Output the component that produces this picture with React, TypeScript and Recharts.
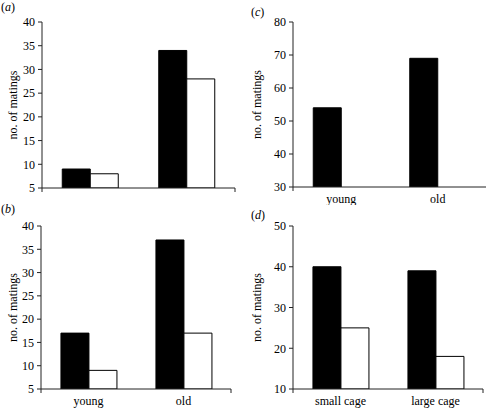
import React from 'react';
import { BarChart, Bar, XAxis, YAxis } from 'recharts';

const ageCategories = ['young', 'old'];
const cageCategories = ['small cage', 'large cage'];

const aBlack = [9, 34];
const aWhite = [8, 28];
const bBlack = [17, 37];
const bWhite = [9, 17];
const cBlack = [54, 69];
const cWhite: (number | null)[] = [null, null];
const dBlack = [40, 39];
const dWhite = [25, 18];

const ticksAB = [5, 10, 15, 20, 25, 30, 35, 40];
const ticksC = [30, 40, 50, 60, 70, 80];
const ticksD = [10, 20, 30, 40, 50];
const boundaryTicks = [0, 1, 2];

const FONT = '"Liberation Serif", "Times New Roman", serif';
const AXIS = '#222';

function build(cats: string[], black: (number | null)[], white: (number | null)[]) {
  return cats.map((c, i) => ({ cat: c, black: black[i], white: white[i] }));
}

const YLabel = (props: any) => {
  const vb = props.viewBox;
  const x = vb.x + 13;
  const y = vb.y + vb.height / 2;
  return (
    <text x={x} y={y} transform={`rotate(-90, ${x}, ${y})`} textAnchor="middle" dominantBaseline="central" style={{ fontSize: 12, fontFamily: FONT }} fill="#000">
      no. of matings
    </text>
  );
};

type PanelProps = {
  left: number; top: number; width: number; height: number;
  yWidth: number; mTop: number; mRight: number; axisH: number;
  data: any[]; domain: [number, number]; ticks: number[]; showX: boolean;
  tag: string; tagX: number; tagY: number;
};

function Panel(p: PanelProps) {
  const tickStyle = { fontSize: 12, fontFamily: FONT, fill: '#000' };
  return (
    <div style={{ position: 'absolute', left: p.left, top: p.top, width: p.width, height: p.height, fontFamily: FONT }}>
      <BarChart width={p.width} height={p.height} data={p.data} margin={{ top: p.mTop, right: p.mRight, bottom: 0, left: 0 }} barCategoryGap="21%" barGap={0} style={{ fontFamily: FONT, overflow: 'visible' }}>
        <XAxis xAxisId="a" type="number" domain={[0, boundaryTicks.length - 1]} ticks={boundaryTicks} allowDataOverflow height={1} tickSize={4} tickFormatter={() => ''} axisLine={{ stroke: AXIS }} tickLine={{ stroke: AXIS }} />
        <XAxis xAxisId="z" dataKey="cat" height={p.axisH - 1} axisLine={false} tickLine={false} tickSize={0} tickMargin={6} tick={p.showX ? tickStyle : false} interval={0} />
        <YAxis width={p.yWidth} domain={p.domain} ticks={p.ticks} allowDataOverflow interval={0} tickSize={4} tickMargin={3} axisLine={{ stroke: AXIS }} tickLine={{ stroke: AXIS }} tick={tickStyle} label={<YLabel />} />
        <Bar xAxisId="z" dataKey="black" fill="#000" stroke="#000" strokeWidth={1} isAnimationActive={false} />
        <Bar xAxisId="z" dataKey="white" fill="#fff" stroke="#000" strokeWidth={1} isAnimationActive={false} />
      </BarChart>
      <div style={{ position: 'absolute', left: p.tagX, top: p.tagY, fontFamily: FONT, fontSize: 12, lineHeight: '12px', color: '#000' }}>
        (<i>{p.tag}</i>)
      </div>
    </div>
  );
}

export default function App() {
  return (
    <div style={{ position: 'absolute', left: 0, top: 0, width: 488, height: 409, background: '#fff' }}>
      <Panel left={0} top={0} width={244} height={205} yWidth={42} mTop={22} mRight={9} axisH={17}
        data={build(ageCategories, aBlack, aWhite)} domain={[5, 40]} ticks={ticksAB} showX={false} tag="a" tagX={1} tagY={1} />
      <Panel left={244} top={0} width={244} height={205} yWidth={49} mTop={22} mRight={2} axisH={18}
        data={build(ageCategories, cBlack, cWhite)} domain={[30, 80]} ticks={ticksC} showX={true} tag="c" tagX={7} tagY={6} />
      <Panel left={0} top={205} width={244} height={204} yWidth={41} mTop={21} mRight={13} axisH={20}
        data={build(ageCategories, bBlack, bWhite)} domain={[5, 40]} ticks={ticksAB} showX={true} tag="b" tagX={1} tagY={-2} />
      <Panel left={244} top={205} width={244} height={204} yWidth={49} mTop={21} mRight={5} axisH={20}
        data={build(cageCategories, dBlack, dWhite)} domain={[10, 50]} ticks={ticksD} showX={true} tag="d" tagX={7} tagY={4} />
    </div>
  );
}
